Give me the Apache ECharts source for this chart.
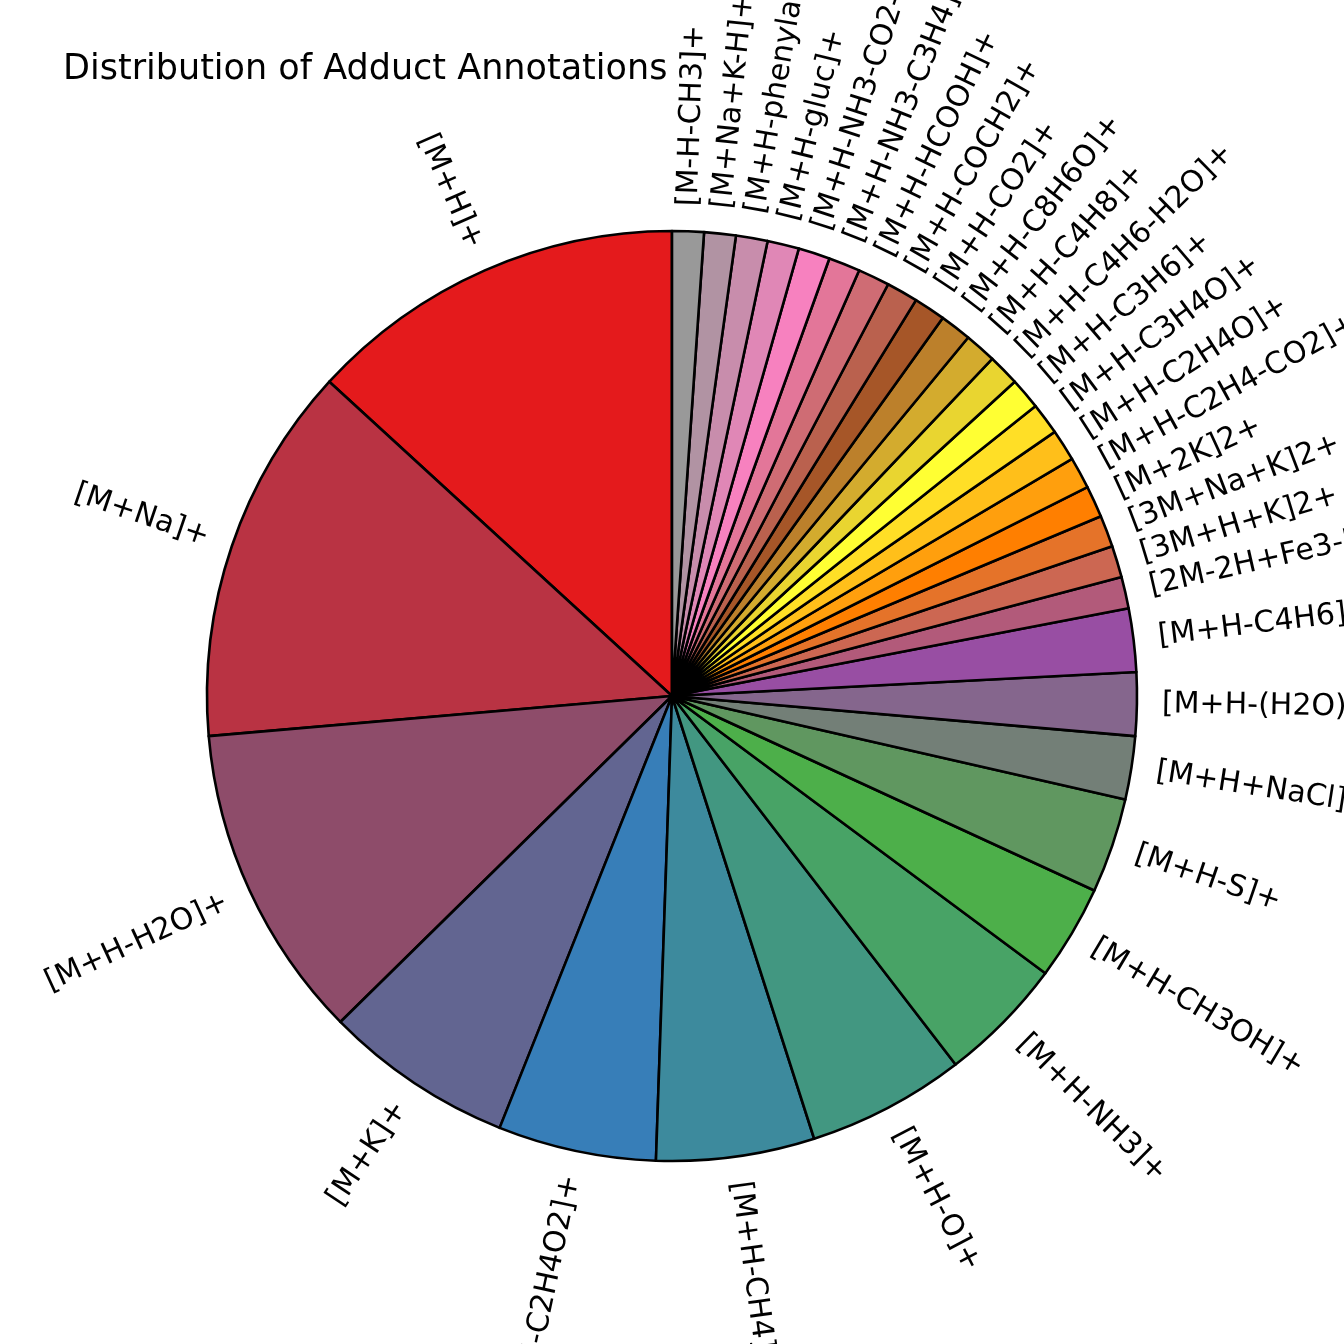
<!DOCTYPE html>
<html>
<head>
<meta charset="utf-8">
<script src="https://cdn.jsdelivr.net/npm/echarts@6/dist/echarts.min.js"></script>
<style>
html,body{margin:0;padding:0;background:#fff;}
#chart{width:1344px;height:1344px;}
</style>
</head>
<body>
<div id="chart"></div>
<script>
// ---- data ----
var adductLabels = [
  "[M+H]+", "[M+Na]+", "[M+H-H2O]+", "[M+K]+", "[M+H-C2H4O2]+", "[M+H-CH4]+",
  "[M+H-O]+", "[M+H-NH3]+", "[M+H-CH3OH]+", "[M+H-S]+", "[M+H+NaCl]+",
  "[M+H-(H2O)2]+", "[M+H-C4H6]+", "[2M-2H+Fe3-H]+", "[3M+H+K]2+", "[3M+Na+K]2+",
  "[M+2K]2+", "[M+H-C2H4-CO2]+", "[M+H-C2H4O]+", "[M+H-C3H4O]+", "[M+H-C3H6]+",
  "[M+H-C4H6-H2O]+", "[M+H-C4H8]+", "[M+H-C8H6O]+", "[M+H-CO2]+", "[M+H-COCH2]+",
  "[M+H-HCOOH]+", "[M+H-NH3-C3H4]+", "[M+H-NH3-CO2-H2O]+", "[M+H-gluc]+",
  "[M+H-phenylalanine]+", "[M+Na+K-H]+", "[M-H-CH3]+"
];
var adductCounts = [
  12, 12, 10, 6, 5, 5,
  5, 4, 3, 3, 2,
  2, 2, 1, 1, 1,
  1, 1, 1, 1, 1,
  1, 1, 1, 1, 1,
  1, 1, 1, 1,
  1, 1, 1
];
var chartTitle = "Distribution of Adduct Annotations";

// ---- colours: Set1 interpolated over the slices ----
var set1 = ['#e41a1c','#377eb8','#4daf4a','#984ea3','#ff7f00','#ffff33','#a65628','#f781bf','#999999'];
function hex2rgb(h){return [parseInt(h.substr(1,2),16),parseInt(h.substr(3,2),16),parseInt(h.substr(5,2),16)];}
function interpColor(t){
  var pos = t*(set1.length-1);
  var i = Math.min(Math.floor(pos), set1.length-2);
  var f = pos - i;
  var a = hex2rgb(set1[i]), b = hex2rgb(set1[i+1]);
  var c = a.map(function(v,k){return Math.round(v+(b[k]-v)*f);});
  return 'rgb('+c.join(',')+')';
}
var n = adductLabels.length;
var pieData = adductLabels.map(function(name, i){
  return {name: name, value: adductCounts[i], itemStyle: {color: interpColor(n>1 ? i/(n-1) : 0)}};
});

var chart = echarts.init(document.getElementById('chart'), null, {renderer:'canvas'});
chart.setOption({
  animation: false,
  backgroundColor: '#ffffff',
  title: {
    text: chartTitle,
    left: 63, top: 52, padding: 0,
    textStyle: {fontFamily: 'DejaVu Sans', fontSize: 35, fontWeight: 'normal', color: '#000'}
  },
  series: [{
    type: 'pie',
    center: [672, 696],
    radius: 465,
    startAngle: 90,
    clockwise: false,
    avoidLabelOverlap: false,
    minShowLabelAngle: 0,
    data: pieData,
    itemStyle: {borderColor: '#000', borderWidth: 2.6},
    label: {
      show: true,
      position: 'outside',
      rotate: 'radial',
      formatter: '{b}',
      fontFamily: 'DejaVu Sans',
      fontSize: 30,
      color: '#000',
      distanceToLabelLine: 0
    },
    labelLine: {show: false, length: 25, length2: 0},
    emphasis: {disabled: true}
  }]
});
</script>
</body>
</html>
